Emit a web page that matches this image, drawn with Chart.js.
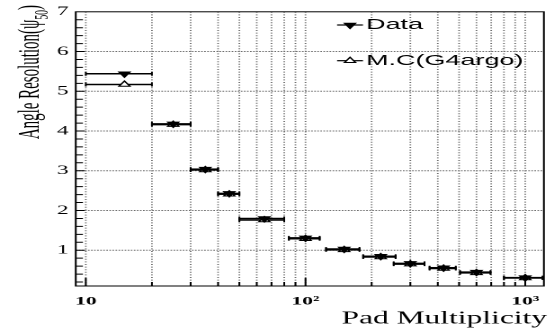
<!DOCTYPE html>
<html>
<head>
<meta charset="utf-8">
<script src="https://cdn.jsdelivr.net/npm/chart.js@4.4.1/dist/chart.umd.min.js"></script>
<style>
  html, body { margin: 0; padding: 0; background: #fff; overflow: hidden; }
  /* the original picture is a horizontally stretched ROOT canvas */
  #wrap { width: 308px; height: 333px; transform: scaleX(1.7987); transform-origin: 0 0; }
</style>
</head>
<body>
<div id="wrap"><canvas id="res" width="308" height="333"></canvas></div>
<script>
const multiplicity = [15, 25, 35, 45, 65, 100, 150, 220, 300, 425, 600, 1000];
const binHalfWidth = [5, 5, 5, 5, 15, 16, 26, 37, 48, 58, 95, 200];
const dataRes = [5.44, 4.18, 3.04, 2.43, 1.80, 1.31, 1.03, 0.85, 0.67, 0.56, 0.45, 0.31];
const dataErr = [0.03, 0.03, 0.03, 0.05, 0.03, 0.03, 0.03, 0.03, 0.03, 0.03, 0.03, 0.03];
const mcRes = [5.17, 4.16, 3.02, 2.41, 1.76, 1.29, 1.01, 0.83, 0.65, 0.54, 0.43, 0.30];

const yTicks = [1, 2, 3, 4, 5, 6, 7];
const xLabelTicks = [10, 100, 1000];
const xLabels = ['10', '10\u00B2', '10\u00B3'];
const xGrid = [10, 20, 30, 40, 50, 60, 70, 80, 90, 100, 200, 300, 400, 500, 600, 700, 800, 900, 1000];

const serif = '"Liberation Serif", "Times New Roman", serif';
const sans = '"Liberation Sans", Arial, sans-serif';

function toPoints(ys) {
    return multiplicity.map((m, i) => ({x: m, y: ys[i]}));
}

const decor = {
    id: 'decor',
    beforeDatasetsDraw(chart) {
        const {ctx, chartArea: a, scales: {x, y}} = chart;
        ctx.save();
        ctx.strokeStyle = '#6e6e6e';
        ctx.lineWidth = 0.9;
        ctx.setLineDash([1, 1.6]);
        xGrid.forEach(v => {
            const px = x.getPixelForValue(v);
            ctx.beginPath(); ctx.moveTo(px, a.top); ctx.lineTo(px, a.bottom); ctx.stroke();
        });
        ctx.lineWidth = 1;
        ctx.setLineDash([0.9, 0.8]);
        yTicks.slice(0, 6).forEach(v => {
            const py = y.getPixelForValue(v);
            ctx.beginPath(); ctx.moveTo(a.left, py); ctx.lineTo(a.right, py); ctx.stroke();
        });
        ctx.setLineDash([]);

        // horizontal (bin) error bars for both series
        ctx.strokeStyle = '#000';
        [dataRes, mcRes].forEach(vals => {
            vals.forEach((v, i) => {
                const py = y.getPixelForValue(v);
                const x1 = Math.max(a.left, x.getPixelForValue(multiplicity[i] - binHalfWidth[i]));
                const x2 = Math.min(a.right, x.getPixelForValue(multiplicity[i] + binHalfWidth[i]));
                ctx.lineWidth = 1.5;
                ctx.beginPath(); ctx.moveTo(x1, py); ctx.lineTo(x2, py); ctx.stroke();
                ctx.lineWidth = 1;
                ctx.beginPath();
                ctx.moveTo(x1, py - 2); ctx.lineTo(x1, py + 2);
                ctx.moveTo(x2, py - 2); ctx.lineTo(x2, py + 2);
                ctx.stroke();
            });
        });
        // vertical errors of the data
        ctx.lineWidth = 1;
        dataRes.forEach((v, i) => {
            const px = x.getPixelForValue(multiplicity[i]);
            ctx.beginPath();
            ctx.moveTo(px, y.getPixelForValue(v - dataErr[i]));
            ctx.lineTo(px, y.getPixelForValue(v + dataErr[i]));
            ctx.stroke();
        });
        ctx.restore();
    },
    afterDraw(chart) {
        const {ctx, chartArea: a, scales: {x, y}} = chart;
        ctx.save();
        ctx.strokeStyle = '#000';
        ctx.fillStyle = '#000';
        ctx.lineWidth = 1;
        ctx.strokeRect(a.left, a.top, a.right - a.left, a.bottom - a.top);

        // ticks on the left axis
        ctx.beginPath();
        for (let k = 1; k <= 34; k++) {
            const v = k / 5;
            const py = y.getPixelForValue(v);
            const len = (k % 5 === 0) ? 5 : 4;
            ctx.moveTo(a.left, py); ctx.lineTo(a.left + len, py);
        }
        // ticks on the bottom axis
        xGrid.forEach(v => {
            const px = x.getPixelForValue(v);
            const len = xLabelTicks.includes(v) ? 8 : 4;
            ctx.moveTo(px, a.bottom); ctx.lineTo(px, a.bottom - len);
        });
        ctx.stroke();

        // x title
        ctx.font = '17.5px ' + serif;
        ctx.textAlign = 'right';
        ctx.textBaseline = 'alphabetic';
        ctx.fillText('Pad Multiplicity', 304.1, 323.3);

        // y title, rotated, with subscript
        ctx.font = '17px ' + serif;
        const main = 'Angle Resolution(\u03C8';
        const w1 = ctx.measureText(main).width;
        ctx.font = '11px ' + serif;
        const w2 = ctx.measureText('50').width;
        ctx.font = '17px ' + serif;
        const w3 = ctx.measureText(')').width;
        const squeeze = 0.88;
        const total = (w1 + w2 + w3) * squeeze;
        ctx.save();
        ctx.translate(21.5, 5 + total);
        ctx.rotate(-Math.PI / 2);
        ctx.scale(squeeze, 1);
        ctx.textAlign = 'left';
        ctx.fillText(main, 0, 0);
        ctx.font = '11px ' + serif;
        ctx.fillText('50', w1, 5);
        ctx.font = '17px ' + serif;
        ctx.fillText(')', w1 + w2, 0);
        ctx.restore();

        // legend
        const entries = [
            {label: 'Data', y: 25, style: {pointStyle: 'triangle', rotation: 180, radius: 3.5, borderWidth: 1}, fill: '#000'},
            {label: 'M.C(G4argo)', y: 60.7, style: {pointStyle: 'triangle', rotation: 0, radius: 3.5, borderWidth: 1}, fill: '#fff'}
        ];
        entries.forEach(e => {
            ctx.strokeStyle = '#000';
            ctx.lineWidth = 1.2;
            ctx.beginPath(); ctx.moveTo(187.4, e.y); ctx.lineTo(201.8, e.y); ctx.stroke();
            ctx.lineWidth = 1;
            ctx.fillStyle = e.fill;
            Chart.helpers.drawPoint(ctx, e.style, 194.6, e.y);
            ctx.fillStyle = '#000';
            ctx.font = '15px ' + sans;
            ctx.textAlign = 'left';
            ctx.textBaseline = 'middle';
            ctx.fillText(e.label, 203.5, e.y);
        });
        ctx.restore();
    }
};

const res_ctx = document.getElementById('res');

let resChart = new Chart(res_ctx, {
    type: 'scatter',
    data: {
        datasets: [{
            label: 'Data',
            data: toPoints(dataRes),
            pointStyle: 'triangle',
            rotation: 180,
            radius: 3.5,
            backgroundColor: '#000',
            borderColor: '#000',
            borderWidth: 1,
        },
        {
            label: 'M.C(G4argo)',
            data: toPoints(mcRes),
            pointStyle: 'triangle',
            rotation: 0,
            radius: 3.5,
            backgroundColor: '#fff',
            borderColor: '#000',
            borderWidth: 1,
        }]
    },
    options: {
        responsive: false,
        devicePixelRatio: 2,
        animation: false,
        layout: {
            padding: {top: 4, right: 3.2, left: 0, bottom: 0}
        },
        plugins: {
            legend: {display: false},
            tooltip: {enabled: false},
        },
        scales: {
            x: {
                type: 'logarithmic',
                min: 9,
                max: 1216,
                afterBuildTicks: s => { s.ticks = xLabelTicks.map(v => ({value: v})); },
                afterFit: s => { s.height = 47; },
                grid: {display: false, drawTicks: false},
                border: {display: false},
                ticks: {
                    autoSkip: false,
                    maxRotation: 0,
                    padding: 8,
                    color: '#000',
                    font: {family: serif, size: 12, weight: 'bold'},
                    callback: v => xLabels[xLabelTicks.indexOf(v)],
                }
            },
            y: {
                min: 0.1,
                max: 7,
                afterBuildTicks: s => { s.ticks = yTicks.map(v => ({value: v})); },
                afterFit: s => { s.width = 42.1; },
                grid: {display: false, drawTicks: false},
                border: {display: false},
                ticks: {
                    autoSkip: false,
                    padding: 4,
                    color: '#000',
                    font: {family: serif, size: 13},
                }
            }
        }
    },
    plugins: [decor]
});
</script>
</body>
</html>
